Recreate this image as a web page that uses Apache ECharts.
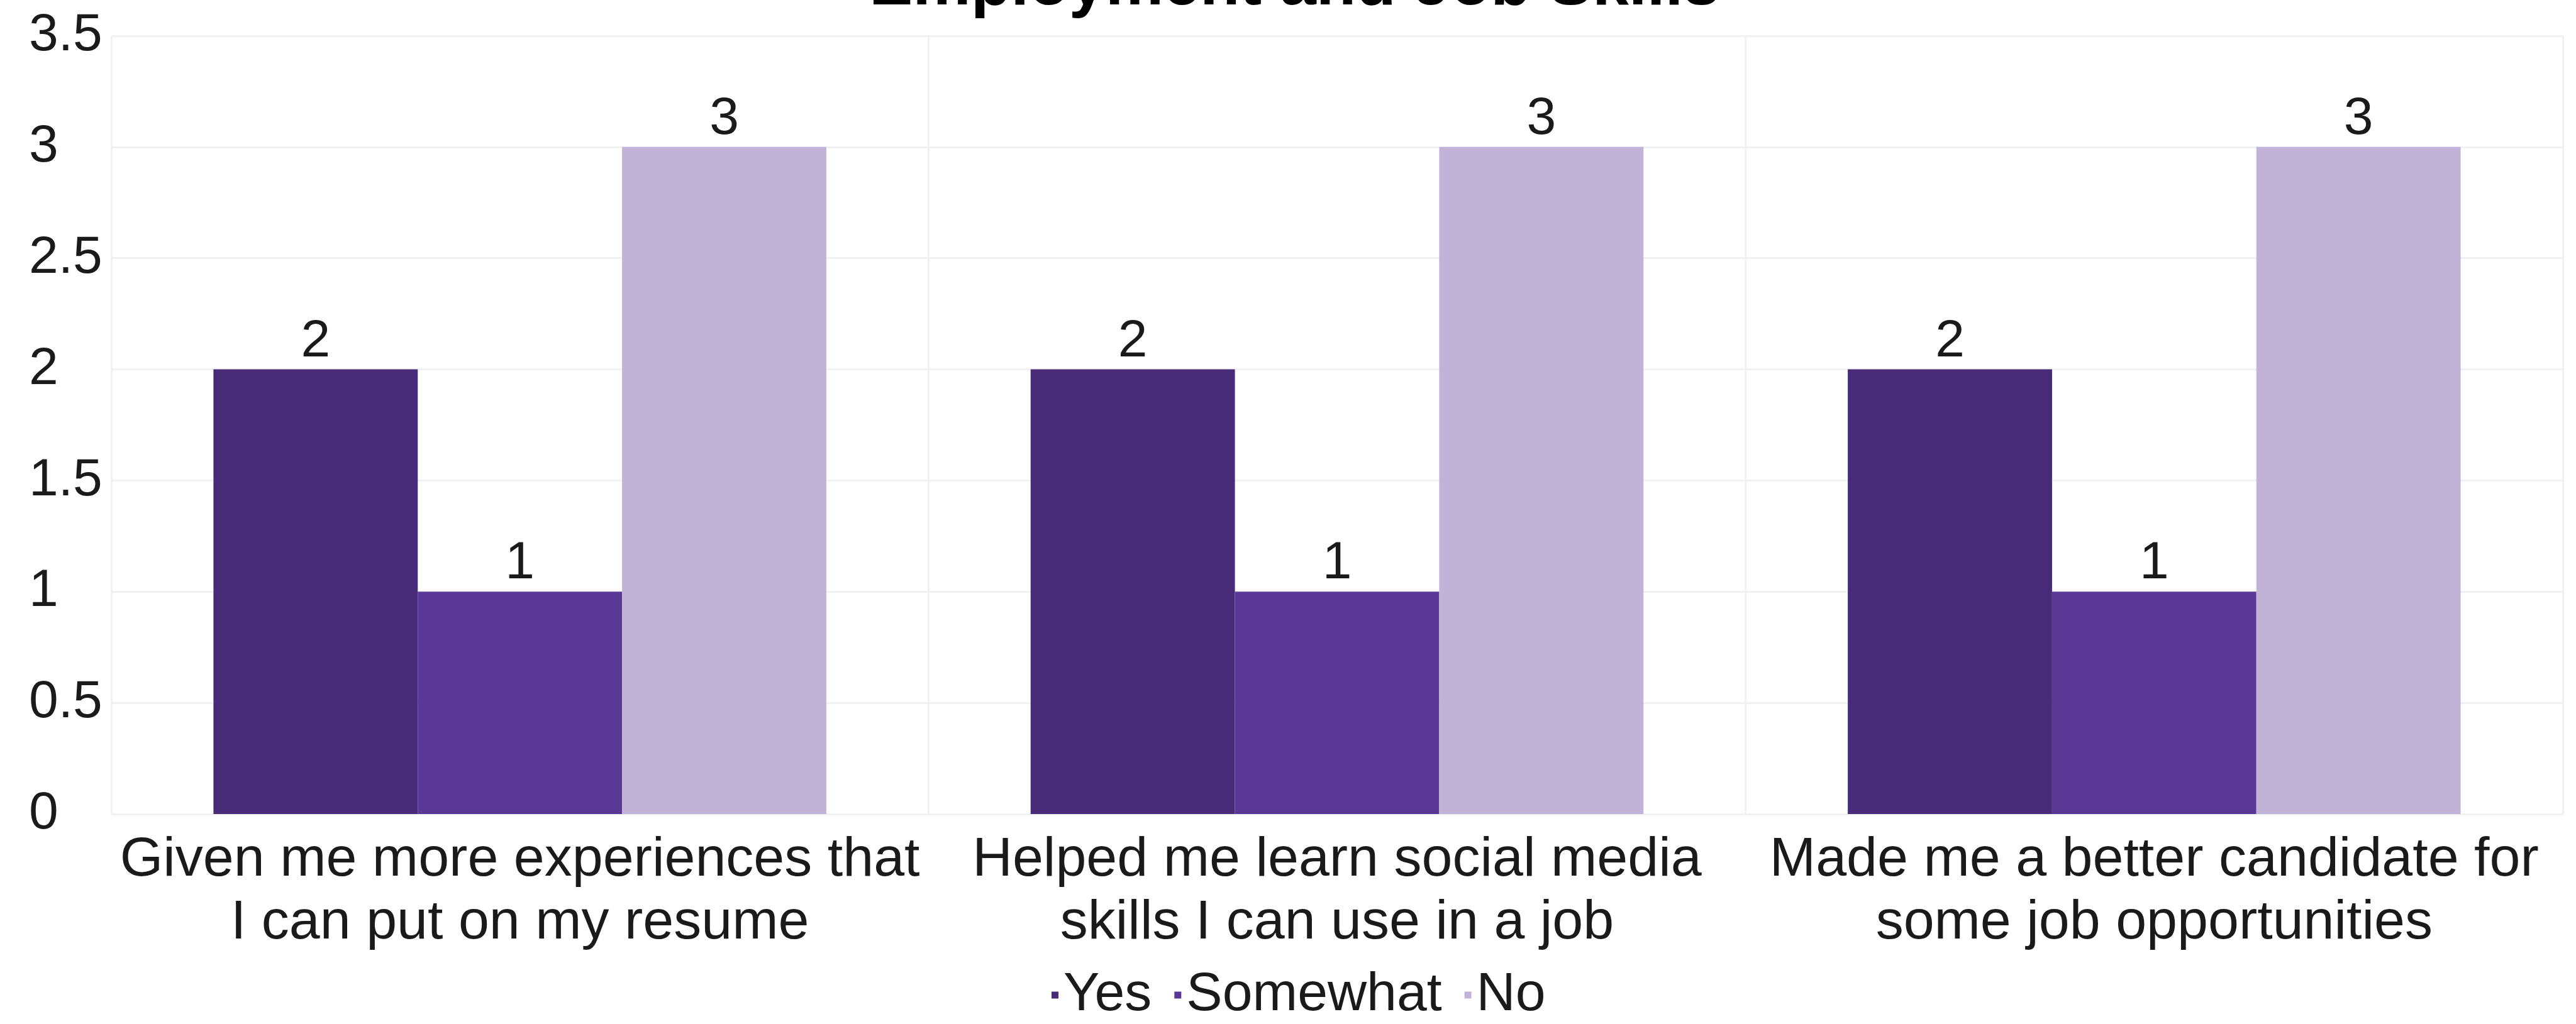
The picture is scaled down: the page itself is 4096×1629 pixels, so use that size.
<!DOCTYPE html>
<html>
<head>
<meta charset="utf-8">
<title>Employment and Job Skills</title>
<script src="https://cdn.jsdelivr.net/npm/echarts@6/dist/echarts.min.js"></script>
<style>
  html, body { margin: 0; padding: 0; background: #ffffff; }
  #chart { width: 4096px; height: 1629px; }
</style>
</head>
<body>
<div id="chart"></div>
<script>
// Survey answers per statement
const categories = [
  'Given me more experiences that\nI can put on my resume',
  'Helped me learn social media\nskills I can use in a job',
  'Made me a better candidate for\nsome job opportunities'
];
const seriesNames = ['Yes', 'Somewhat', 'No'];
const yesValues = [2, 2, 2];
const somewhatValues = [1, 1, 1];
const noValues = [3, 3, 3];
const yTicks = [0, 0.5, 1, 1.5, 2, 2.5, 3, 3.5];

const FONT = '"Liberation Sans", Arial, sans-serif';
const colors = ['#482b78', '#5a3896', '#c1b3d7'];
const gridColor = '#f1f1f1';

const chart = echarts.init(document.getElementById('chart'), null, { renderer: 'canvas' });

function barSeries(name, data, color) {
  return {
    name: name,
    type: 'bar',
    data: data,
    barGap: '0%',
    barCategoryGap: '25%',
    itemStyle: { color: color },
    label: {
      show: true,
      position: 'top',
      distance: 2,
      color: '#1a1a1a',
      fontFamily: FONT,
      fontSize: 84
    }
  };
}

chart.setOption({
  animation: false,
  backgroundColor: '#ffffff',
  color: colors,
  title: {
    text: 'Employment and Job Skills',
    left: 1382,
    top: -74,
    padding: 0,
    textStyle: {
      fontFamily: FONT,
      fontWeight: 'bold',
      fontSize: 104,
      color: '#000000'
    }
  },
  legend: {
    data: seriesNames,
    left: 1672,
    top: 1540,
    padding: 0,
    icon: 'rect',
    itemWidth: 11,
    itemHeight: 11,
    itemGap: 36,
    textStyle: {
      fontFamily: FONT,
      fontSize: 86,
      color: '#1a1a1a',
      padding: [0, 0, 0, 3]
    }
  },
  grid: {
    left: 177,
    right: 21,
    top: 57,
    bottom: 334,
    containLabel: false
  },
  xAxis: {
    type: 'category',
    data: categories,
    axisLine: { show: false },
    axisTick: { show: false },
    splitLine: { show: true, lineStyle: { color: gridColor, width: 3 } },
    axisLabel: {
      margin: 24,
      fontFamily: FONT,
      fontSize: 88,
      lineHeight: 100,
      color: '#1a1a1a',
      interval: 0
    }
  },
  yAxis: {
    type: 'value',
    min: yTicks[0],
    max: yTicks[yTicks.length - 1],
    interval: yTicks[1] - yTicks[0],
    axisLine: { show: false },
    axisTick: { show: false },
    splitLine: { show: true, lineStyle: { color: gridColor, width: 3 } },
    axisLabel: {
      align: 'left',
      margin: 131,
      fontFamily: FONT,
      fontSize: 84,
      color: '#1a1a1a'
    }
  },
  series: [
    barSeries(seriesNames[0], yesValues, colors[0]),
    barSeries(seriesNames[1], somewhatValues, colors[1]),
    barSeries(seriesNames[2], noValues, colors[2])
  ]
});
</script>
</body>
</html>
